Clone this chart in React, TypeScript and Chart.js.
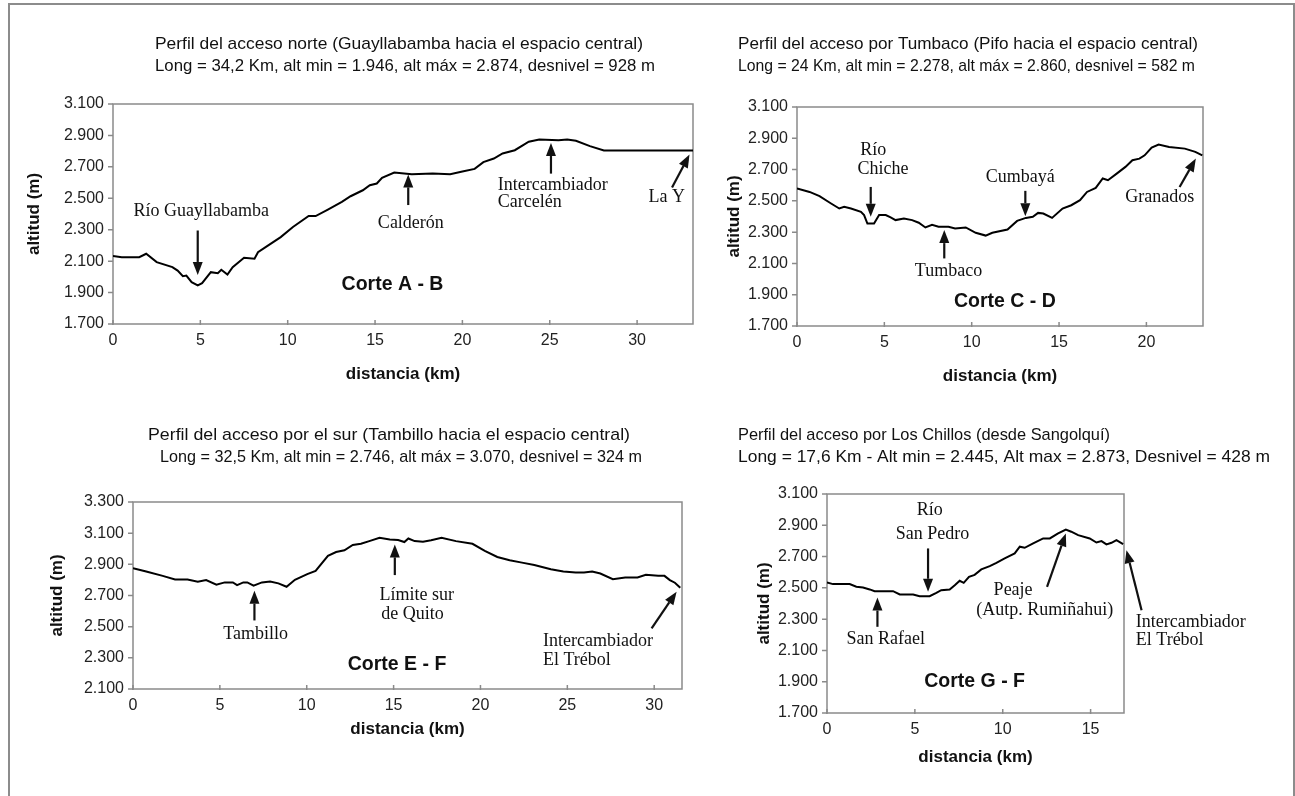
import React, { useEffect, useRef } from 'react';
import { Chart, registerables } from 'chart.js';
Chart.register(...registerables);

const W = 1295;
const H = 796;
const SANS = '"Liberation Sans", Arial, sans-serif';
const SERIF = '"Liberation Serif", "Times New Roman", serif';

// ---------- Data: Corte A - B ----------
const A_KM = [0, 0.5, 1.5, 1.9, 2.5, 3.4, 3.7, 4.0, 4.2, 4.5, 4.85, 5.1, 5.6, 6.0, 6.2, 6.55, 6.85, 7.5, 8.1, 8.3, 8.8, 9.6, 10.3, 11.2, 11.6, 12.3, 13.1, 13.6, 14.3, 14.7, 15.1, 15.4, 16.1, 17.1, 18.3, 19.3, 20.0, 20.7, 21.2, 21.8, 22.3, 23.0, 23.8, 24.4, 25.5, 26.0, 26.5, 27.3, 28.1, 33.2];
const A_ALT = [2132, 2125, 2125, 2147, 2094, 2062, 2040, 2004, 2008, 1966, 1946, 1960, 2030, 2023, 2045, 2015, 2062, 2121, 2115, 2157, 2194, 2253, 2317, 2387, 2387, 2428, 2477, 2513, 2551, 2583, 2594, 2630, 2664, 2653, 2657, 2653, 2670, 2687, 2730, 2753, 2785, 2806, 2860, 2874, 2870, 2874, 2866, 2832, 2804, 2804];
const A_XTICKS = [0, 5, 10, 15, 20, 25, 30];
const A_YTICKS = [1700, 1900, 2100, 2300, 2500, 2700, 2900, 3100];

// ---------- Data: Corte C - D ----------
const B_KM = [0, 0.72, 1.29, 1.95, 2.42, 2.7, 3.09, 3.66, 3.84, 4.03, 4.41, 4.7, 5.08, 5.36, 5.64, 6.12, 6.59, 6.97, 7.35, 7.73, 8.1, 8.67, 9.05, 9.66, 10.23, 10.8, 11.18, 12.05, 12.6, 13.1, 13.5, 13.8, 14.1, 14.6, 15.2, 15.7, 16.2, 16.6, 17.1, 17.5, 17.8, 18.3, 18.8, 19.2, 19.6, 19.9, 20.3, 20.7, 21.3, 22.2, 22.8, 23.2];
const B_ALT = [2579, 2557, 2530, 2483, 2451, 2462, 2451, 2430, 2409, 2355, 2355, 2409, 2409, 2394, 2377, 2387, 2377, 2360, 2330, 2347, 2334, 2334, 2323, 2330, 2296, 2278, 2296, 2317, 2372, 2391, 2398, 2423, 2419, 2391, 2451, 2472, 2504, 2557, 2583, 2643, 2632, 2674, 2717, 2760, 2770, 2791, 2840, 2860, 2845, 2834, 2813, 2791];
const B_XTICKS = [0, 5, 10, 15, 20];
const B_YTICKS = [1700, 1900, 2100, 2300, 2500, 2700, 2900, 3100];

// ---------- Data: Corte E - F ----------
const E_KM = [0, 0.76, 1.71, 2.42, 3.14, 3.73, 4.21, 4.8, 5.28, 5.75, 5.99, 6.35, 6.58, 6.94, 7.42, 7.89, 8.37, 8.84, 9.32, 10.03, 10.51, 11.22, 11.69, 12.17, 12.65, 13.12, 13.6, 14.19, 14.78, 15.26, 15.62, 15.85, 16.21, 16.69, 17.16, 17.76, 18.59, 19.54, 20.25, 20.97, 21.68, 22.39, 23.1, 24.05, 24.77, 25.48, 25.96, 26.43, 26.9, 27.62, 28.33, 29.04, 29.52, 30.23, 30.59, 30.9, 31.19, 31.5];
const E_ALT = [2875, 2854, 2826, 2803, 2803, 2788, 2799, 2769, 2784, 2784, 2767, 2784, 2784, 2763, 2784, 2790, 2778, 2756, 2801, 2837, 2858, 2954, 2979, 2990, 3024, 3032, 3049, 3070, 3060, 3056, 3043, 3066, 3049, 3045, 3054, 3070, 3049, 3032, 2986, 2947, 2926, 2911, 2896, 2869, 2854, 2848, 2848, 2854, 2841, 2805, 2816, 2816, 2833, 2826, 2826, 2799, 2782, 2750];
const E_XTICKS = [0, 5, 10, 15, 20, 25, 30];
const E_YTICKS = [2100, 2300, 2500, 2700, 2900, 3100, 3300];

// ---------- Data: Corte G - F ----------
const G_KM = [0, 0.34, 1.29, 1.67, 2.05, 2.43, 2.71, 3.76, 4.14, 4.9, 5.27, 5.84, 6.22, 6.5, 6.98, 7.27, 7.55, 7.78, 8.08, 8.4, 8.78, 9.26, 9.64, 10.11, 10.68, 10.97, 11.25, 11.73, 12.3, 12.68, 13.15, 13.59, 13.9, 14.29, 14.95, 15.33, 15.62, 15.9, 16.19, 16.47, 16.85];
const G_ALT = [2534, 2524, 2524, 2507, 2502, 2490, 2479, 2479, 2458, 2458, 2447, 2447, 2468, 2485, 2490, 2517, 2545, 2532, 2571, 2583, 2618, 2639, 2660, 2688, 2720, 2763, 2756, 2784, 2816, 2816, 2848, 2873, 2859, 2837, 2816, 2790, 2799, 2778, 2788, 2805, 2780];
const G_XTICKS = [0, 5, 10, 15];
const G_YTICKS = [1700, 1900, 2100, 2300, 2500, 2700, 2900, 3100];

type Note = { t: string; x: number; y: number; align?: CanvasTextAlign };
type Arrow = [number, number, number, number];
type Spec = {
  km: number[]; alt: number[]; xMax: number; yMin: number; yMax: number;
  xTicks: number[]; yTicks: number[];
  area: { l: number; t: number; r: number; b: number };
  title: { x: number[]; y: number[]; w: number[]; lines: string[] };
  yTitleX: number; xTitleY: number;
  corte: Note; notes: Note[]; arrows: Arrow[];
};

const PANELS: Spec[] = [
  {
    km: A_KM, alt: A_ALT, xMax: 33.2, yMin: 1700, yMax: 3100, xTicks: A_XTICKS, yTicks: A_YTICKS,
    area: { l: 113, t: 104, r: 693, b: 324 },
    title: {
      lines: ['Perfil del acceso norte (Guayllabamba hacia el espacio central)', 'Long = 34,2 Km, alt min = 1.946, alt máx = 2.874, desnivel = 928 m'],
      x: [155, 155], y: [44, 66], w: [488, 500],
    },
    yTitleX: 34, xTitleY: 374,
    corte: { t: 'Corte A - B', x: 16.0, y: 1951 },
    notes: [
      { t: 'Río Guayllabamba', x: 5.05, y: 2418 },
      { t: 'Calderón', x: 17.05, y: 2340 },
      { t: 'Intercambiador', x: 22.03, y: 2585, align: 'left' },
      { t: 'Carcelén', x: 22.03, y: 2477, align: 'left' },
      { t: 'La Y', x: 31.7, y: 2504 },
    ],
    arrows: [[4.85, 2295, 4.85, 2012], [16.9, 2457, 16.9, 2652], [25.07, 2657, 25.07, 2852], [32.0, 2568, 33.0, 2778]],
  },
  {
    km: B_KM, alt: B_ALT, xMax: 23.24, yMin: 1700, yMax: 3100, xTicks: B_XTICKS, yTicks: B_YTICKS,
    area: { l: 797, t: 107, r: 1203, b: 326 },
    title: {
      lines: ['Perfil del acceso por Tumbaco (Pifo hacia el espacio central)', 'Long = 24 Km, alt min = 2.278, alt máx = 2.860, desnivel = 582 m'],
      x: [738, 738], y: [44, 66], w: [460, 457],
    },
    yTitleX: 734, xTitleY: 376,
    corte: { t: 'Corte C - D', x: 11.9, y: 1855 },
    notes: [
      { t: 'Río', x: 4.36, y: 2823 },
      { t: 'Chiche', x: 4.92, y: 2700 },
      { t: 'Tumbaco', x: 8.67, y: 2051 },
      { t: 'Cumbayá', x: 12.78, y: 2649 },
      { t: 'Granados', x: 20.77, y: 2521 },
    ],
    arrows: [[4.22, 2589, 4.22, 2398], [8.43, 2132, 8.43, 2313], [13.07, 2564, 13.07, 2402], [21.9, 2589, 22.83, 2770]],
  },
  {
    km: E_KM, alt: E_ALT, xMax: 31.6, yMin: 2100, yMax: 3300, xTicks: E_XTICKS, yTicks: E_YTICKS,
    area: { l: 133, t: 502, r: 682, b: 689 },
    title: {
      lines: ['Perfil del acceso por el sur (Tambillo hacia el espacio central)', 'Long = 32,5 Km, alt min = 2.746, alt máx = 3.070, desnivel = 324 m'],
      x: [148, 160], y: [435, 457], w: [482, 482],
    },
    yTitleX: 57, xTitleY: 729,
    corte: { t: 'Corte E - F', x: 15.2, y: 2257 },
    notes: [
      { t: 'Tambillo', x: 7.06, y: 2450 },
      { t: 'Límite sur', x: 16.33, y: 2699 },
      { t: 'de Quito', x: 16.09, y: 2582 },
      { t: 'Intercambiador', x: 23.6, y: 2405, align: 'left' },
      { t: 'El Trébol', x: 23.6, y: 2282, align: 'left' },
    ],
    arrows: [[6.99, 2540, 6.99, 2731], [15.07, 2831, 15.07, 3028], [29.85, 2489, 31.29, 2724]],
  },
  {
    km: G_KM, alt: G_ALT, xMax: 16.9, yMin: 1700, yMax: 3100, xTicks: G_XTICKS, yTicks: G_YTICKS,
    area: { l: 827, t: 494, r: 1124, b: 713 },
    title: {
      lines: ['Perfil del acceso por Los Chillos (desde Sangolquí)', 'Long = 17,6 Km - Alt min = 2.445, Alt max = 2.873, Desnivel = 428 m'],
      x: [738, 738], y: [435, 457], w: [372, 532],
    },
    yTitleX: 764, xTitleY: 757,
    corte: { t: 'Corte G - F', x: 8.4, y: 1898 },
    notes: [
      { t: 'Río', x: 5.84, y: 2993 },
      { t: 'San Pedro', x: 6.0, y: 2842 },
      { t: 'San Rafael', x: 3.34, y: 2170 },
      { t: 'Peaje', x: 10.59, y: 2485 },
      { t: '(Autp. Rumiñahui)', x: 12.39, y: 2357 },
      { t: 'Intercambiador', x: 17.57, y: 2283, align: 'left' },
      { t: 'El Trébol', x: 17.57, y: 2165, align: 'left' },
    ],
    arrows: [[5.75, 2752, 5.75, 2475], [2.87, 2251, 2.87, 2438], [12.52, 2507, 13.59, 2848], [17.9, 2357, 17.04, 2741]],
  },
];

const Y_AXIS_W = 70;
const X_AXIS_H = 30;
const AXIS_GREY = '#8a8a8a';

function drawArrow(ctx: CanvasRenderingContext2D, x1: number, y1: number, x2: number, y2: number) {
  const ang = Math.atan2(y2 - y1, x2 - x1);
  const head = 13, hw = 5;
  const bx = x2 - head * Math.cos(ang), by = y2 - head * Math.sin(ang);
  ctx.beginPath();
  ctx.moveTo(x1, y1);
  ctx.lineTo(bx, by);
  ctx.lineWidth = 2.2;
  ctx.stroke();
  ctx.beginPath();
  ctx.moveTo(x2, y2);
  ctx.lineTo(bx + hw * Math.sin(ang), by - hw * Math.cos(ang));
  ctx.lineTo(bx - hw * Math.sin(ang), by + hw * Math.cos(ang));
  ctx.closePath();
  ctx.fill();
}

function fittedText(ctx: CanvasRenderingContext2D, text: string, x: number, y: number, w: number) {
  const m = ctx.measureText(text).width;
  const s = w / m;
  ctx.save();
  ctx.translate(x, y);
  ctx.scale(s, 1);
  ctx.textAlign = 'left';
  ctx.fillText(text, 0, 0);
  ctx.restore();
}

const decorPlugin = {
  id: 'decor',
  beforeDatasetsDraw(chart: any) {
    const spec: Spec = chart.options.plugins.decor.spec;
    const { ctx, chartArea } = chart;
    const { left, top, right, bottom } = chartArea;
    const xs = chart.scales.x, ys = chart.scales.y;
    ctx.save();
    ctx.strokeStyle = AXIS_GREY;
    ctx.lineWidth = 1.5;
    ctx.strokeRect(left, top, right - left, bottom - top);
    ctx.beginPath();
    spec.yTicks.forEach(v => {
      const py = ys.getPixelForValue(v);
      ctx.moveTo(left - 5, py);
      ctx.lineTo(left, py);
    });
    spec.xTicks.forEach(v => {
      const px = xs.getPixelForValue(v);
      ctx.moveTo(px, bottom - 4);
      ctx.lineTo(px, bottom + 1);
    });
    ctx.stroke();
    ctx.restore();
  },
  afterDraw(chart: any) {
    const spec: Spec = chart.options.plugins.decor.spec;
    const { ctx, chartArea } = chart;
    const { left, right, top, bottom } = chartArea;
    const xs = chart.scales.x, ys = chart.scales.y;
    ctx.save();
    ctx.fillStyle = '#111';
    ctx.strokeStyle = '#111';
    ctx.textBaseline = 'middle';

    // titles
    ctx.font = `17px ${SANS}`;
    spec.title.lines.forEach((ln, i) => fittedText(ctx, ln, spec.title.x[i], spec.title.y[i], spec.title.w[i]));

    // axis titles
    ctx.font = `bold 17px ${SANS}`;
    ctx.textAlign = 'center';
    ctx.fillText('distancia (km)', (left + right) / 2, spec.xTitleY);
    ctx.save();
    ctx.translate(spec.yTitleX, (top + bottom) / 2);
    ctx.rotate(-Math.PI / 2);
    ctx.fillText('altitud (m)', 0, 0);
    ctx.restore();

    // corte label
    ctx.font = `bold 19.5px ${SANS}`;
    ctx.textAlign = 'center';
    ctx.fillText(spec.corte.t, xs.getPixelForValue(spec.corte.x), ys.getPixelForValue(spec.corte.y));

    // notes
    ctx.font = `18px ${SERIF}`;
    spec.notes.forEach(n => {
      ctx.textAlign = n.align || 'center';
      ctx.fillText(n.t, xs.getPixelForValue(n.x), ys.getPixelForValue(n.y));
    });

    // arrows
    spec.arrows.forEach(a => {
      drawArrow(ctx, xs.getPixelForValue(a[0]), ys.getPixelForValue(a[1]), xs.getPixelForValue(a[2]), ys.getPixelForValue(a[3]));
    });
    ctx.restore();
  },
};

function Panel({ spec }: { spec: Spec }) {
  const ref = useRef<HTMLCanvasElement>(null);
  useEffect(() => {
    if (!ref.current) return;
    const a = spec.area;
    const chart = new Chart(ref.current, {
      type: 'line',
      data: {
        datasets: [{
          data: spec.km.map((k, i) => ({ x: k, y: spec.alt[i] })),
          borderColor: '#000',
          borderWidth: 2,
          pointRadius: 0,
          tension: 0,
          fill: false,
        }],
      },
      options: {
        animation: false,
        responsive: false,
        devicePixelRatio: 1,
        events: [],
        layout: {
          padding: { left: a.l - Y_AXIS_W, top: a.t, right: W - a.r, bottom: H - a.b - X_AXIS_H },
        },
        plugins: {
          legend: { display: false },
          tooltip: { enabled: false },
          title: { display: false },
          decor: { spec },
        } as any,
        scales: {
          x: {
            type: 'linear', min: 0, max: spec.xMax,
            afterBuildTicks: (s: any) => { s.ticks = spec.xTicks.map(v => ({ value: v })); },
            afterFit: (s: any) => { s.height = X_AXIS_H; },
            grid: { display: false, drawTicks: false, tickLength: 0 },
            border: { display: false },
            ticks: { padding: 7, color: '#222', font: { size: 16, family: SANS }, maxRotation: 0, autoSkip: false },
          },
          y: {
            type: 'linear', min: spec.yMin, max: spec.yMax,
            afterBuildTicks: (s: any) => { s.ticks = spec.yTicks.map(v => ({ value: v })); },
            afterFit: (s: any) => { s.width = Y_AXIS_W; },
            grid: { display: false, drawTicks: false, tickLength: 0 },
            border: { display: false },
            ticks: {
              padding: 9, color: '#222', font: { size: 16, family: SANS }, autoSkip: false,
              callback: (v: any) => (Number(v) / 1000).toFixed(3),
            },
          },
        },
      },
      plugins: [decorPlugin as any],
    });
    return () => chart.destroy();
  }, [spec]);
  return <canvas ref={ref} width={W} height={H} style={{ position: 'absolute', left: 0, top: 0, width: W, height: H }} />;
}

export default function App() {
  return (
    <div style={{ position: 'absolute', left: 0, top: 0, width: W, height: H, overflow: 'hidden', background: '#fff' }}>
      <div style={{ position: 'absolute', left: 8, top: 3, width: 1283, height: 900, border: '2px solid #8c8c8c' }} />
      {PANELS.map((p, i) => <Panel key={i} spec={p} />)}
    </div>
  );
}
